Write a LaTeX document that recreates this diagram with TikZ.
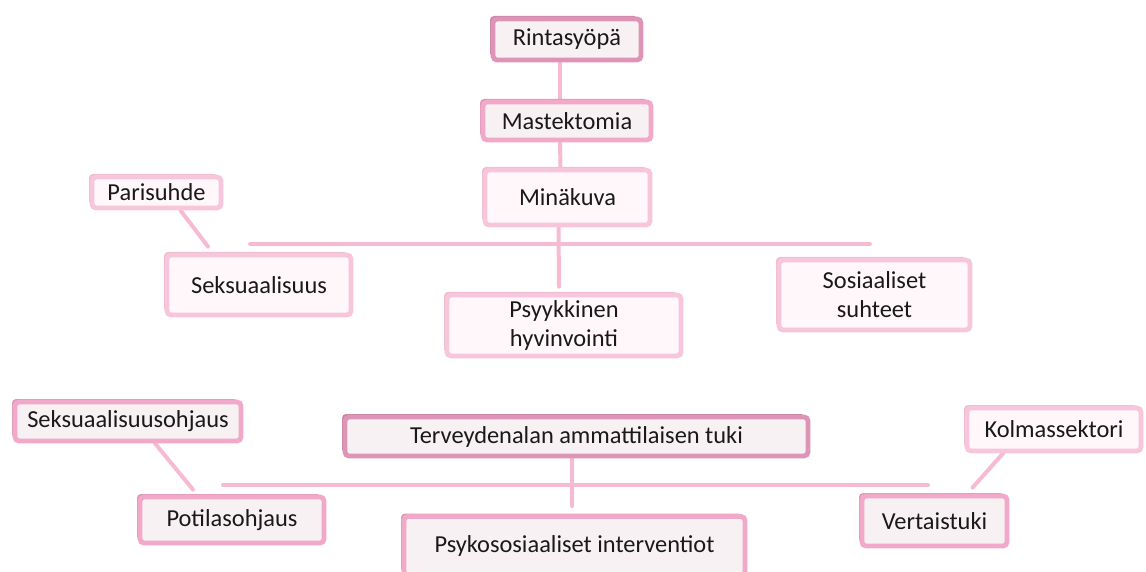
\documentclass[tikz,border=0pt]{standalone}
\usepackage{fontspec}
\setmainfont{Carlito}
\usepackage{tikz}
\usetikzlibrary{arrows,shapes,shadows}
\pgfdeclarelayer{background}
\pgfsetlayers{background,main}
\definecolor{darkpink}{HTML}{DE94B6}
\definecolor{midpink}{HTML}{F2A9C9}
\definecolor{lightpink}{HTML}{F8C6DA}
\definecolor{darkfill}{HTML}{F8F1F4}
\definecolor{lightfill}{HTML}{FFF7FA}
\definecolor{linkpink}{HTML}{F6BBD3}
\tikzstyle{box}=[rectangle,rounded corners=2pt,line width=2.4pt,inner sep=0pt,align=center,text=black!90,font=\fontsize{12.2}{14.5}\selectfont]
\tikzstyle{darkbox}=[box,draw=darkpink,fill=darkfill,general shadow={fill=darkpink!90!black,shadow xshift=-1.5pt,shadow yshift=1.5pt}]
\tikzstyle{midbox}=[box,draw=midpink,fill=darkfill,general shadow={fill=midpink!90!black,shadow xshift=-1.5pt,shadow yshift=1.5pt}]
\tikzstyle{lightbox}=[box,draw=lightpink,fill=lightfill,general shadow={fill=lightpink!95!black,shadow xshift=-1.5pt,shadow yshift=1.5pt}]
\tikzstyle{link} = [draw=linkpink,line width=2pt,line cap=round]

\begin{document}
\begin{tikzpicture}[x=0.5pt,y=-0.5pt]
    \clip (0,0) rectangle (1146,572);
    % upper tree
    \node[darkbox,minimum width=74pt,minimum height=20.5pt] (rinta) at (567,39.5) {Rintasyöpä};
    \node[midbox,minimum width=84pt,minimum height=19pt] (mastek) at (567,121) {Mastektomia};
    \node[lightbox,minimum width=82.5pt,minimum height=27.5pt] (mina) at (567.5,197.5) {Minäkuva};
    \node[lightbox,minimum width=64.5pt,minimum height=15.5pt] (pari) at (156.5,192.5) {Parisuhde};
    \node[lightbox,minimum width=92pt,minimum height=30pt] (seks) at (259,285) {Seksuaalisuus};
    \node[lightbox,minimum width=117pt,minimum height=30.5pt] (psyyk) at (564,325.5) {Psyykkinen\\hyvinvointi};
    \node[lightbox,minimum width=95.5pt,minimum height=35pt] (sosi) at (874.5,295) {Sosiaaliset\\suhteet};

    % lower tree
    \node[darkbox,minimum width=231.5pt,minimum height=19.5pt] (terv) at (576.5,436.5) {Terveydenalan ammattilaisen tuki};
    \node[midbox,minimum width=113pt,minimum height=19.5pt] (seksohj) at (128,421.5) {Seksuaalisuusohjaus};
    \node[midbox,minimum width=92pt,minimum height=23pt] (potil) at (232,520) {Potilasohjaus};
    \node[midbox,minimum width=170.5pt,minimum height=29.5pt] (psyko) at (574.5,546) {Psykososiaaliset interventiot};
    \node[lightbox,minimum width=87pt,minimum height=21.5pt] (kolm) at (1054,429.5) {Kolmassektori};
    \node[midbox,minimum width=72.5pt,minimum height=25pt] (vert) at (934.5,521) {Vertaistuki};

    % bus lines
    \coordinate (busA1) at (250,244);
    \coordinate (busA2) at (870,244);
    \coordinate (busB1) at (223,485);
    \coordinate (busB2) at (928,485);

    % connectors behind the boxes
    \begin{pgfonlayer}{background}
    \path[link] ([xshift=-3.5pt]rinta.south) -- ([xshift=-3.5pt]mastek.north);
    \path[link] ([xshift=-3.5pt]mastek.south) -- ([xshift=-3.5pt]mina.north);
    \path[link] ([xshift=-4.5pt]mina.south) -- ([xshift=-2.5pt,yshift=3pt]psyyk.north);
    \path[link] ([xshift=-2.2pt]terv.south) -- ([xshift=-1.2pt,yshift=4pt]psyko.north);
    \path[link] (busA1) -- (busA2);
    \path[link] (busB1) -- (busB2);
    \path[link] ([xshift=12pt]pari.south) -- ([xshift=-25.5pt,yshift=3pt]seks.north);
    \path[link] ([xshift=13.5pt]seksohj.south) -- ([xshift=-19.5pt,yshift=2.5pt]potil.north);
    \path[link] ([xshift=-25.5pt]kolm.south) -- ([xshift=19pt,yshift=3pt]vert.north);
    \end{pgfonlayer}
\end{tikzpicture}
\end{document}
